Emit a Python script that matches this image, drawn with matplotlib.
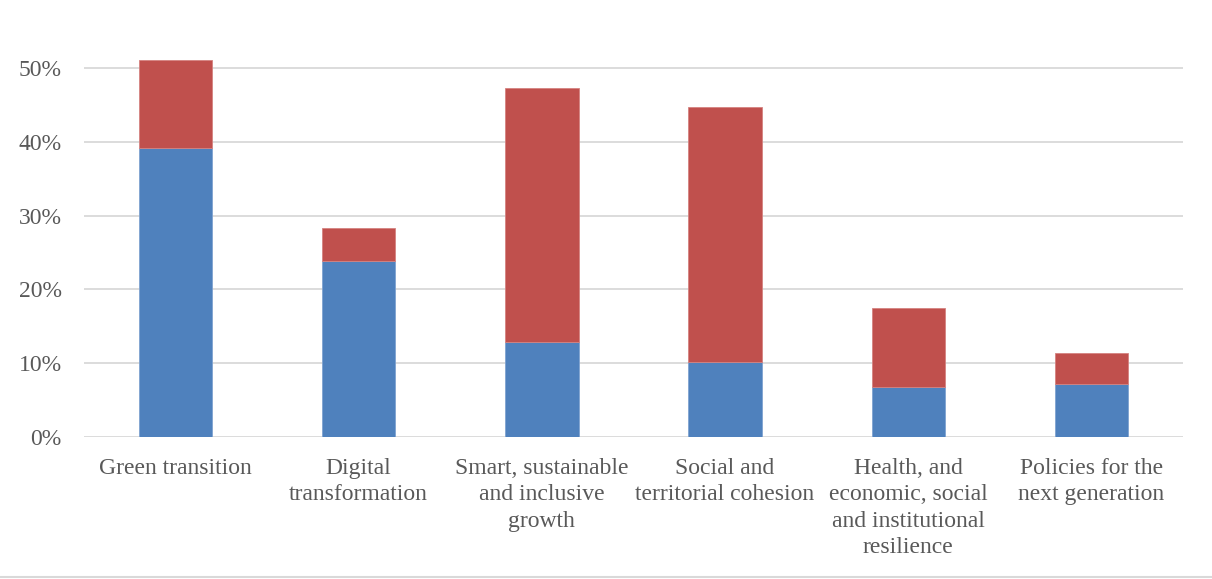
import matplotlib.pyplot as plt
from matplotlib.ticker import PercentFormatter
from matplotlib.lines import Line2D

categories = ["Green transition", "Digital\ntransformation",
              "Smart, sustainable\nand inclusive\ngrowth",
              "Social and\nterritorial cohesion",
              "Health, and\neconomic, social\nand institutional\nresilience",
              "Policies for the\nnext generation"]
blue_vals = [0.392, 0.239, 0.128, 0.102, 0.068, 0.071]
total_vals = [0.511, 0.283, 0.473, 0.447, 0.175, 0.113]
red_vals = [t - b for t, b in zip(total_vals, blue_vals)]

plt.rcParams['font.family'] = ['Liberation Serif', 'DejaVu Serif']

fig = plt.figure(figsize=(12.12, 5.79), dpi=100)
ax = fig.add_axes([0.0693, 0.2458, 0.9067, 0.70])

x = range(len(categories))
ax.bar(x, blue_vals, width=0.4, color='#4F81BD', edgecolor='#7FA3D0', linewidth=0.6, zorder=3)
ax.bar(x, red_vals, width=0.4, bottom=blue_vals, color='#C0504D', edgecolor='#D58380', linewidth=0.6, zorder=3)

ax.set_xlim(-0.5, len(categories) - 0.5)
ax.set_ylim(0, 0.55)
ax.set_yticks([0, 0.1, 0.2, 0.3, 0.4, 0.5])
ax.yaxis.set_major_formatter(PercentFormatter(1.0, decimals=0))
ax.grid(axis='y', color='#D9D9D9', linewidth=1.3, zorder=0)
for s in ax.spines.values():
    s.set_visible(False)
ax.tick_params(axis='both', length=0, labelsize=17, labelcolor='#595959')
ax.tick_params(axis='y', pad=16)
ax.tick_params(axis='x', pad=15)
ax.set_xticks(list(x))
ax.set_xticklabels(categories, linespacing=1.35)

fig.add_artist(Line2D([0, 1], [0.003, 0.003], color='#D9D9D9', linewidth=1.5, transform=fig.transFigure))

fig.savefig('out.png', dpi=100)
